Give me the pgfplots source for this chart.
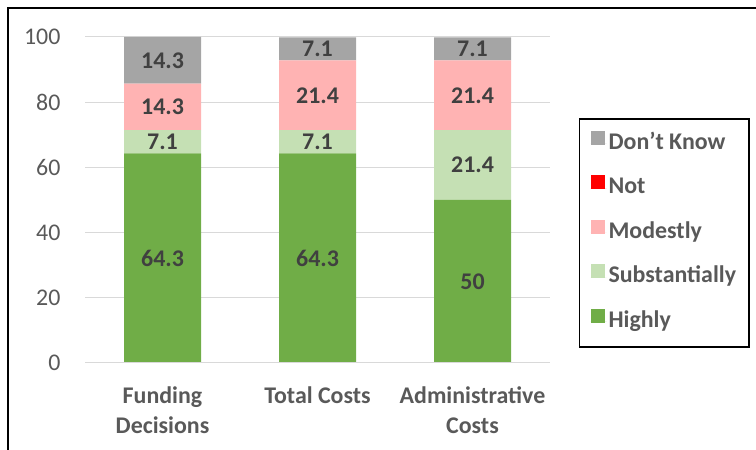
\documentclass[border=0pt]{standalone}
\usepackage{pgfplots}
\pgfplotsset{compat=1.18}
\usepackage{pgfplotstable}
\usepackage{fontspec}
\setmainfont{Carlito}
\definecolor{cDK}{HTML}{A5A5A5}
\definecolor{cNot}{HTML}{FF0000}
\definecolor{cMod}{HTML}{FFB3B3}
\definecolor{cSub}{HTML}{C5E0B4}
\definecolor{cHigh}{HTML}{70AD47}
\definecolor{cGrid}{HTML}{D9D9D9}
\definecolor{cTick}{HTML}{595959}
\definecolor{cLab}{HTML}{404040}
\pgfplotstableread{
x H S N M D
0 64.3 7.1 0 14.3 14.3
1 64.3 7.1 0 21.4 7.1
2 50 21.4 0 21.4 7.1
}\data
\begin{document}
\begin{tikzpicture}[x=1bp,y=1bp]
\useasboundingbox (0,0) rectangle (756,450);
\draw[line width=2bp, black] (8,0) -- (8,442) -- (757,442);
\begin{axis}[
  at={(85bp,87bp)}, anchor=south west,
  scale only axis, width=465bp, height=326bp,
  ybar stacked, bar width=77bp,
  xmin=-0.5, xmax=2.5, ymin=0, ymax=100,
  xtick={0,1,2},
  xticklabels={{Funding\\Decisions},{Total Costs},{Administrative\\Costs}},
  ytick={0,20,40,60,80,100},
  major tick length=0pt,
  axis line style={draw=none},
  ymajorgrids, grid style={cGrid, line width=1bp},
  /pgf/number format/assume math mode=true,
  yticklabel style={font=\fontsize{24}{28}\selectfont, text=cTick, xshift=-21bp},
  xticklabel style={font=\bfseries\fontsize{24}{30}\selectfont, text=cTick, align=center, yshift=-20bp},
  point meta=explicit symbolic,
  every node near coord/.append style={font=\bfseries\fontsize{24}{28}\selectfont, text=cLab, anchor=center},
  legend style={at={(1.062,0.7515)}, anchor=north west, draw=black, line width=1.5bp,
    font=\bfseries\fontsize{24}{28}\selectfont, text=cTick, row sep=17.5bp, inner xsep=11bp, inner ysep=11.5bp,
    nodes={inner sep=2bp, text height=17bp, text depth=6bp}},
  legend cell align=left,
  reverse legend,
  legend image code/.code={\path (0bp,0bp) -- (16bp,0bp); \fill[#1] (0bp,-1bp) rectangle (14bp,13bp);},
]
\draw[cGrid, line width=1bp] (axis cs:-0.5,0) -- (axis cs:2.5,0);
\addplot[fill=cHigh, draw=none, nodes near coords] table[x=x, y=H, meta=H]{\data};
\addlegendentry{Highly}
\addplot[fill=cSub, draw=none, nodes near coords] table[x=x, y=S, meta=S]{\data};
\addlegendentry{Substantially}
\addplot[fill=cMod, draw=none, nodes near coords] table[x=x, y=M, meta=M]{\data};
\addlegendentry{Modestly}
\addplot[fill=cNot, draw=none] table[x=x, y=N, meta=N]{\data};
\addlegendentry{Not}
\addplot[fill=cDK, draw=none, nodes near coords] table[x=x, y=D, meta=D]{\data};
\addlegendentry{Don’t Know}
\end{axis}
\end{tikzpicture}
\end{document}
